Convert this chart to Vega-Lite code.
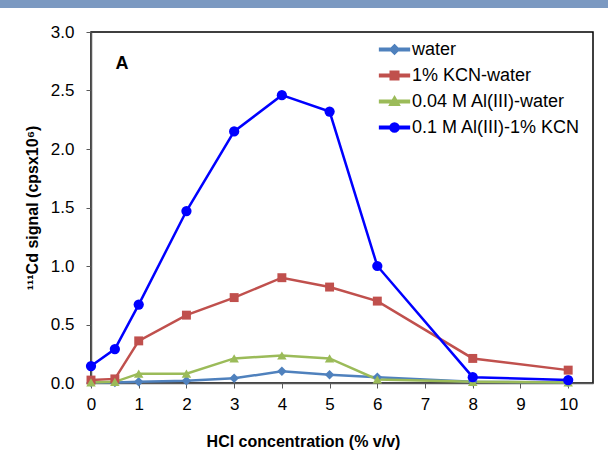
{
  "$schema": "https://vega.github.io/schema/vega-lite/v6.json",
  "width": 502,
  "height": 351,
  "autosize": {"type": "none"},
  "padding": {"left": 91, "top": 32, "right": 15, "bottom": 89},
  "background": "white",
  "config": {
    "view": {"stroke": "#000000", "strokeWidth": 1.5},
    "font": "Liberation Sans",
    "axis": {
      "grid": false,
      "domainColor": "#595959",
      "domainWidth": 1.5,
      "tickColor": "#595959",
      "tickWidth": 1,
      "tickSize": 5,
      "labelColor": "#000000",
      "labelFont": "Liberation Sans",
      "labelFontSize": 17,
      "labelFlush": false,
      "titleFont": "Liberation Sans",
      "titleFontSize": 16,
      "titleFontWeight": "bold",
      "titleColor": "#000000"
    },
    "legend": {
      "title": null,
      "orient": "none",
      "legendX": 294,
      "legendY": 8,
      "padding": 0,
      "symbolSize": 256,
      "labelFontSize": 18,
      "labelFont": "Liberation Sans",
      "labelColor": "#000000",
      "labelOffset": 8,
      "labelLimit": 300,
      "rowPadding": 7
    }
  },
  "datasets": {
    "series": [
      {"x": 0, "y": 0.005, "s": "water"},
      {"x": 0.5, "y": 0.005, "s": "water"},
      {"x": 1, "y": 0.01, "s": "water"},
      {"x": 2, "y": 0.02, "s": "water"},
      {"x": 3, "y": 0.04, "s": "water"},
      {"x": 4, "y": 0.1, "s": "water"},
      {"x": 5, "y": 0.07, "s": "water"},
      {"x": 6, "y": 0.05, "s": "water"},
      {"x": 8, "y": 0.01, "s": "water"},
      {"x": 10, "y": 0.005, "s": "water"},
      {"x": 0, "y": 0.025, "s": "1% KCN-water"},
      {"x": 0.5, "y": 0.035, "s": "1% KCN-water"},
      {"x": 1, "y": 0.36, "s": "1% KCN-water"},
      {"x": 2, "y": 0.58, "s": "1% KCN-water"},
      {"x": 3, "y": 0.73, "s": "1% KCN-water"},
      {"x": 4, "y": 0.9, "s": "1% KCN-water"},
      {"x": 5, "y": 0.82, "s": "1% KCN-water"},
      {"x": 6, "y": 0.7, "s": "1% KCN-water"},
      {"x": 8, "y": 0.21, "s": "1% KCN-water"},
      {"x": 10, "y": 0.11, "s": "1% KCN-water"},
      {"x": 0, "y": 0.005, "s": "0.04 M Al(III)-water"},
      {"x": 0.5, "y": 0.01, "s": "0.04 M Al(III)-water"},
      {"x": 1, "y": 0.08, "s": "0.04 M Al(III)-water"},
      {"x": 2, "y": 0.08, "s": "0.04 M Al(III)-water"},
      {"x": 3, "y": 0.21, "s": "0.04 M Al(III)-water"},
      {"x": 4, "y": 0.235, "s": "0.04 M Al(III)-water"},
      {"x": 5, "y": 0.21, "s": "0.04 M Al(III)-water"},
      {"x": 6, "y": 0.03, "s": "0.04 M Al(III)-water"},
      {"x": 8, "y": 0.01, "s": "0.04 M Al(III)-water"},
      {"x": 10, "y": 0.005, "s": "0.04 M Al(III)-water"},
      {"x": 0, "y": 0.145, "s": "0.1 M Al(III)-1% KCN"},
      {"x": 0.5, "y": 0.29, "s": "0.1 M Al(III)-1% KCN"},
      {"x": 1, "y": 0.67, "s": "0.1 M Al(III)-1% KCN"},
      {"x": 2, "y": 1.47, "s": "0.1 M Al(III)-1% KCN"},
      {"x": 3, "y": 2.15, "s": "0.1 M Al(III)-1% KCN"},
      {"x": 4, "y": 2.46, "s": "0.1 M Al(III)-1% KCN"},
      {"x": 5, "y": 2.32, "s": "0.1 M Al(III)-1% KCN"},
      {"x": 6, "y": 1.0, "s": "0.1 M Al(III)-1% KCN"},
      {"x": 8, "y": 0.05, "s": "0.1 M Al(III)-1% KCN"},
      {"x": 10, "y": 0.025, "s": "0.1 M Al(III)-1% KCN"}
    ]
  },
  "layer": [
    {
      "data": {"values": [{"x1": -1.95, "x2": 10.9, "y1": 3.205, "y2": 3.3}]},
      "mark": {"type": "rect", "color": "#7b99c1", "clip": false},
      "encoding": {
        "x": {"field": "x1", "type": "quantitative"},
        "x2": {"field": "x2"},
        "y": {"field": "y1", "type": "quantitative"},
        "y2": {"field": "y2"}
      }
    },
    {
      "data": {"name": "series"},
      "mark": {"type": "line"},
      "encoding": {
        "x": {"field": "x", "type": "quantitative",
          "scale": {"domain": [0, 10.52], "nice": false, "zero": false},
          "axis": {"values": [0,1,2,3,4,5,6,7,8,9,10], "labelPadding": 8, "title": "HCl concentration (% v/v)", "titleX": 212, "titleY": 63, "titleBaseline": "alphabetic", "titleAnchor": "middle"}
        },
        "y": {"field": "y", "type": "quantitative",
          "scale": {"domain": [0, 3], "nice": false},
          "axis": {"values": [0, 0.5, 1, 1.5, 2, 2.5, 3], "format": ".1f", "labelPadding": 12, "title": "¹¹¹Cd signal (cpsx10⁶)", "titlePadding": 10}
        },
        "color": {"field": "s", "type": "nominal",
          "scale": {"domain": ["water", "1% KCN-water", "0.04 M Al(III)-water", "0.1 M Al(III)-1% KCN"], "range": ["#4f81bd", "#c0504d", "#9bbb59", "#0000ff"]},
          "legend": {
            "encode": {
              "symbols": {
                "update": {
                  "size": {"value": 256},
                  "strokeWidth": {"value": 0},
                  "opacity": {"value": 1},
                  "fill": {"scale": "color", "field": "value"},
                  "shape": {"signal": "datum.value === 'water' ? 'M-1.8,-0.08H1.8V0.08H-1.8Z M0,-0.5L0.5,0L0,0.5L-0.5,0Z' : datum.value === '1% KCN-water' ? 'M-1.8,-0.08H1.8V0.08H-1.8Z M-0.47,-0.47H0.47V0.47H-0.47Z' : datum.value === '0.04 M Al(III)-water' ? 'M-1.8,-0.08H1.8V0.08H-1.8Z M0,-0.5L0.52,0.4L-0.52,0.4Z' : 'M-1.8,-0.09H1.8V0.09H-1.8Z M-0.5,0A0.5,0.5 0 1,1 0.5,0A0.5,0.5 0 1,1 -0.5,0Z'"}
                }
              }
            }
          }},
        "strokeWidth": {"field": "s", "type": "nominal",
          "scale": {"domain": ["water", "1% KCN-water", "0.04 M Al(III)-water", "0.1 M Al(III)-1% KCN"], "range": [2.5, 2.5, 2.5, 3]},
          "legend": null}
      }
    },
    {
      "data": {"name": "series"},
      "transform": [{"filter": "datum.s === 'water'"}],
      "mark": {"type": "point", "filled": true, "opacity": 1, "shape": "diamond", "size": 90, "fill": "#4f81bd"},
      "encoding": {
        "x": {"field": "x", "type": "quantitative"},
        "y": {"field": "y", "type": "quantitative"}
      }
    },
    {
      "data": {"name": "series"},
      "transform": [{"filter": "datum.s === '1% KCN-water'"}],
      "mark": {"type": "point", "filled": true, "opacity": 1, "shape": "square", "size": 80, "fill": "#c0504d"},
      "encoding": {
        "x": {"field": "x", "type": "quantitative"},
        "y": {"field": "y", "type": "quantitative"}
      }
    },
    {
      "data": {"name": "series"},
      "transform": [{"filter": "datum.s === '0.04 M Al(III)-water'"}],
      "mark": {"type": "point", "filled": true, "opacity": 1, "shape": "triangle-up", "size": 90, "fill": "#9bbb59"},
      "encoding": {
        "x": {"field": "x", "type": "quantitative"},
        "y": {"field": "y", "type": "quantitative"}
      }
    },
    {
      "data": {"name": "series"},
      "transform": [{"filter": "datum.s === '0.1 M Al(III)-1% KCN'"}],
      "mark": {"type": "point", "filled": true, "opacity": 1, "shape": "circle", "size": 105, "fill": "#0000ff"},
      "encoding": {
        "x": {"field": "x", "type": "quantitative"},
        "y": {"field": "y", "type": "quantitative"}
      }
    },
    {
      "data": {"values": [{"x": 0.65, "y": 2.73, "t": "A"}]},
      "mark": {"type": "text", "font": "Liberation Sans", "fontSize": 18, "fontWeight": "bold", "color": "#000000", "align": "center", "baseline": "middle"},
      "encoding": {
        "x": {"field": "x", "type": "quantitative"},
        "y": {"field": "y", "type": "quantitative"},
        "text": {"field": "t"}
      }
    }
  ]
}
